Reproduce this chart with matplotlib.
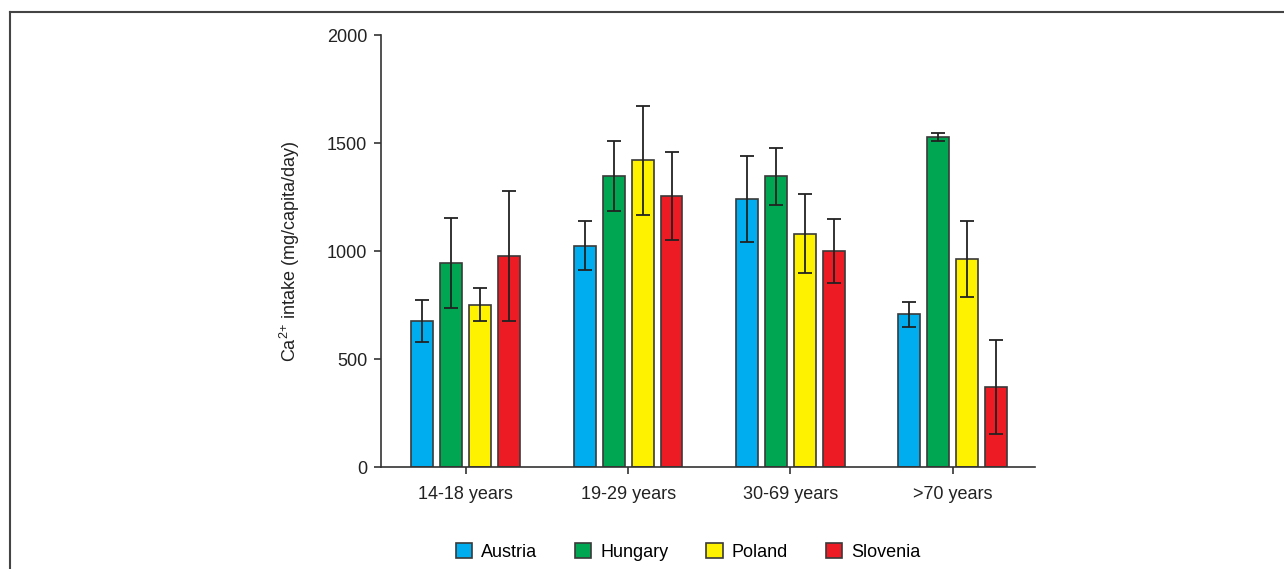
import matplotlib
matplotlib.use("Agg")
import matplotlib.pyplot as plt
import numpy as np
from matplotlib.patches import Patch
from matplotlib.lines import Line2D

plt.rcParams['font.family'] = ['Liberation Sans', 'DejaVu Sans']
plt.rcParams['mathtext.fontset'] = 'custom'
plt.rcParams['mathtext.rm'] = 'Liberation Sans'
plt.rcParams['mathtext.it'] = 'Liberation Sans:italic'
plt.rcParams['mathtext.bf'] = 'Liberation Sans:bold'
plt.rcParams['mathtext.default'] = 'regular'

categories = ["14-18 years", "19-29 years", "30-69 years", ">70 years"]
countries = ["Austria", "Hungary", "Poland", "Slovenia"]
colors = ["#00AEEF", "#00A651", "#FFF200", "#ED1C24"]

austria = [675, 1025, 1240, 708]
hungary = [944, 1345, 1347, 1527]
poland = [752, 1420, 1080, 962]
slovenia = [977, 1255, 1002, 370]

austria_err = [97, 115, 200, 58]
hungary_err = [208, 162, 132, 20]
poland_err = [78, 252, 182, 175]
slovenia_err = [300, 205, 148, 218]

values = [austria, hungary, poland, slovenia]
errors = [austria_err, hungary_err, poland_err, slovenia_err]

fig = plt.figure(figsize=(12.84, 5.69), dpi=100)
ax = fig.add_axes([381/1284, 1 - 467/569, (1035-381)/1284, (467-35)/569])

x = np.arange(len(categories))
step = 0.1785
width = 0.135
for i, (vals, errs, col, name) in enumerate(zip(values, errors, colors, countries)):
    pos = x + (i - 1.5) * step
    ax.bar(pos, vals, width=width, color=col, edgecolor="#3a3a3a", linewidth=1.2,
           label=name, zorder=2)
    ax.errorbar(pos, vals, yerr=errs, fmt='none', ecolor="#222222", elinewidth=1.3,
                capsize=5, capthick=1.3, zorder=3)

ax.set_xlim(-0.523, 3.508)
ax.set_ylim(0, 2000)
ax.set_yticks([0, 500, 1000, 1500, 2000])
ax.set_xticks(x)
ax.set_xticklabels(categories)
ax.tick_params(axis='both', labelsize=13, length=5, width=1.2, color="#333333",
               labelcolor="#222222")
ax.tick_params(axis='x', pad=9)
ax.tick_params(axis='y', pad=5)
for s in ['top', 'right']:
    ax.spines[s].set_visible(False)
for s in ['left', 'bottom']:
    ax.spines[s].set_linewidth(1.2)
    ax.spines[s].set_color("#333333")
ax.set_ylabel("Ca$^{2{+}}$ intake (mg/capita/day)", fontsize=13, color="#222222", labelpad=18)

handles = [Patch(facecolor=c, edgecolor="#3a3a3a", linewidth=1.2) for c in colors]
fig.legend(handles, countries, loc='center', bbox_to_anchor=(688/1284, 1 - 552/569),
           ncol=4, frameon=False, fontsize=13, handlelength=0.9, handleheight=0.9,
           handletextpad=0.5, columnspacing=2.1)

# outer frame lines (top and left)
fig.add_artist(Line2D([10/1284, 1.0], [1 - 12/569, 1 - 12/569], color="#444444", linewidth=1.5,
                      transform=fig.transFigure))
fig.add_artist(Line2D([10/1284, 10/1284], [1 - 12/569, 0.0], color="#444444", linewidth=1.5,
                      transform=fig.transFigure))

fig.savefig("out.png", dpi=100)
